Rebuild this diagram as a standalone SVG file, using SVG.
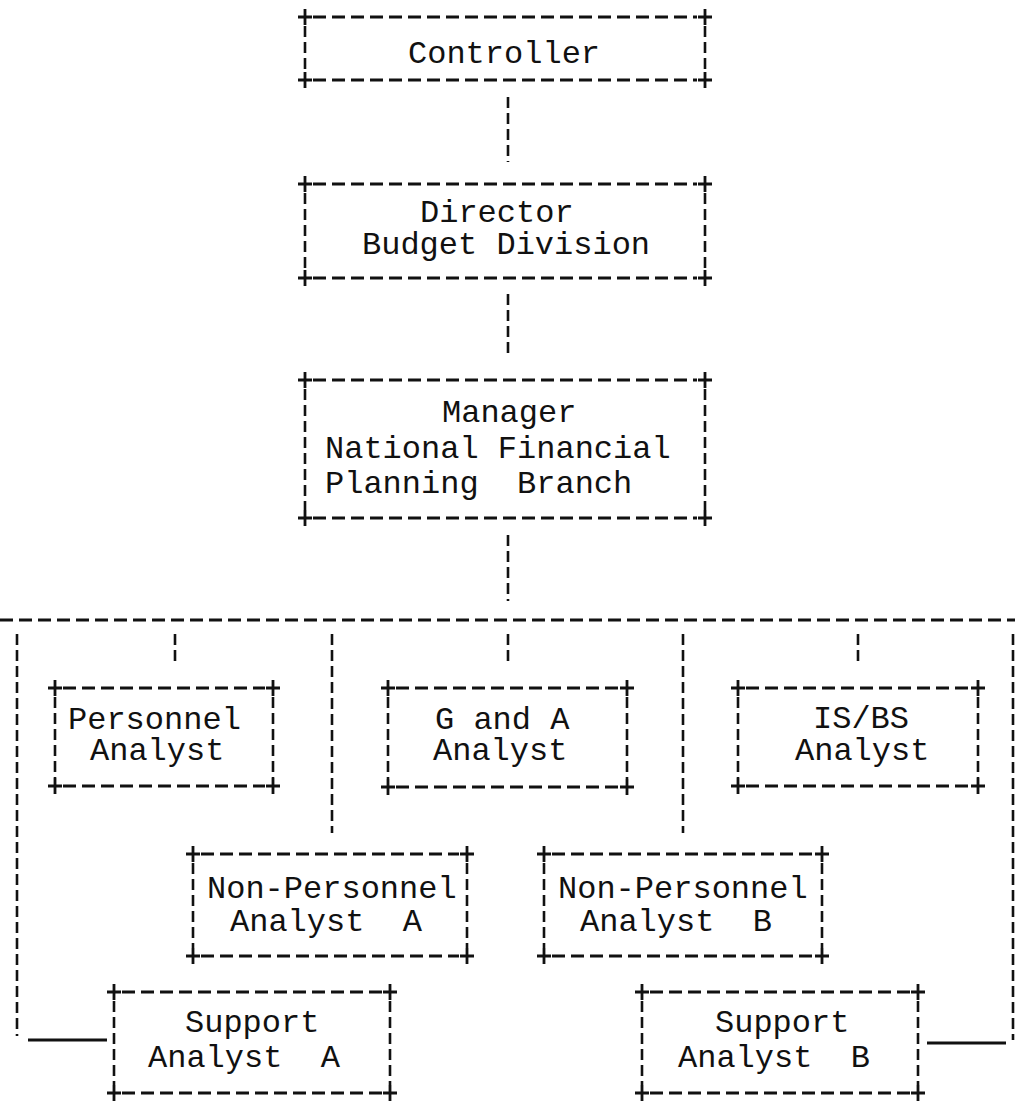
<svg xmlns="http://www.w3.org/2000/svg" xmlns:xlink="http://www.w3.org/1999/xlink" width="1015" height="1102" viewBox="0 0 1015 1102">
<style>
  .bg { fill: #ffffff; }
  .h { stroke: #111; stroke-width: 3; fill: none; stroke-dasharray: 13 6; }
  .v { stroke: #111; stroke-width: 2.6; fill: none; stroke-dasharray: 11 5; }
  .s { stroke: #111; stroke-width: 3; fill: none; }
  .p { stroke: #111; stroke-width: 2.8; fill: none; }
  text { font-family: "Liberation Mono", "DejaVu Sans Mono", monospace; font-size: 32px; fill: #111; white-space: pre; }
</style>
<defs>
  <path id="plus" class="p" d="M-7 0H7M0 -8V8"/>
</defs>
<rect class="bg" x="0" y="0" width="1015" height="1102"/>

<g id="connectors">
  <path class="v" d="M508 97V162"/>
  <path class="v" d="M508 294V357"/>
  <path class="v" d="M508 535V601"/>
  <path class="h" d="M0 620H1015"/>
  <path class="v" d="M175 634V666"/>
  <path class="v" d="M508 634V666"/>
  <path class="v" d="M858 634V666"/>
  <path class="v" d="M332 634V833"/>
  <path class="v" d="M683 634V833"/>
  <path class="v" d="M17 634V1036"/>
  <path class="v" d="M1013 634V1040"/>
  <path class="s" d="M28 1040H107"/>
  <path class="s" d="M927 1043H1006"/>
</g>

<g id="controller">
  <path class="h" d="M313 17H697M313 80H697"/>
  <path class="v" d="M305 26V72M705 26V72"/>
  <use xlink:href="#plus" x="305" y="17"/><use xlink:href="#plus" x="705" y="17"/>
  <use xlink:href="#plus" x="305" y="80"/><use xlink:href="#plus" x="705" y="80"/>
  <text x="408" y="63">Controller</text>
</g>

<g id="director">
  <path class="h" d="M313 184H697M313 278H697"/>
  <path class="v" d="M305 193V270M705 193V270"/>
  <use xlink:href="#plus" x="305" y="184"/><use xlink:href="#plus" x="705" y="184"/>
  <use xlink:href="#plus" x="305" y="278"/><use xlink:href="#plus" x="705" y="278"/>
  <text x="420" y="222">Director</text>
  <text x="362" y="254">Budget Division</text>
</g>

<g id="manager">
  <path class="h" d="M313 380H697M313 518H697"/>
  <path class="v" d="M305 389V510M705 389V510"/>
  <use xlink:href="#plus" x="305" y="380"/><use xlink:href="#plus" x="705" y="380"/>
  <use xlink:href="#plus" x="305" y="518"/><use xlink:href="#plus" x="705" y="518"/>
  <text x="442" y="422">Manager</text>
  <text x="325" y="458">National Financial</text>
  <text x="325" y="493" xml:space="preserve">Planning  Branch</text>
</g>

<g id="personnel-analyst">
  <path class="h" d="M63 688H265M63 786H265"/>
  <path class="v" d="M55 697V778M273 697V778"/>
  <use xlink:href="#plus" x="55" y="688"/><use xlink:href="#plus" x="273" y="688"/>
  <use xlink:href="#plus" x="55" y="786"/><use xlink:href="#plus" x="273" y="786"/>
  <text x="68" y="729">Personnel</text>
  <text x="90" y="760">Analyst</text>
</g>

<g id="g-and-a-analyst">
  <path class="h" d="M396 688H619M396 787H619"/>
  <path class="v" d="M388 697V779M627 697V779"/>
  <use xlink:href="#plus" x="388" y="688"/><use xlink:href="#plus" x="627" y="688"/>
  <use xlink:href="#plus" x="388" y="787"/><use xlink:href="#plus" x="627" y="787"/>
  <text x="435" y="729">G and A</text>
  <text x="433" y="760">Analyst</text>
</g>

<g id="isbs-analyst">
  <path class="h" d="M746 688H970M746 786H970"/>
  <path class="v" d="M738 697V778M978 697V778"/>
  <use xlink:href="#plus" x="738" y="688"/><use xlink:href="#plus" x="978" y="688"/>
  <use xlink:href="#plus" x="738" y="786"/><use xlink:href="#plus" x="978" y="786"/>
  <text x="813" y="728">IS/BS</text>
  <text x="795" y="760">Analyst</text>
</g>

<g id="non-personnel-analyst-a">
  <path class="h" d="M201 854H459M201 956H459"/>
  <path class="v" d="M193 863V948M467 863V948"/>
  <use xlink:href="#plus" x="193" y="854"/><use xlink:href="#plus" x="467" y="854"/>
  <use xlink:href="#plus" x="193" y="956"/><use xlink:href="#plus" x="467" y="956"/>
  <text x="207" y="898">Non-Personnel</text>
  <text x="230" y="931" xml:space="preserve">Analyst  A</text>
</g>

<g id="non-personnel-analyst-b">
  <path class="h" d="M552 854H814M552 956H814"/>
  <path class="v" d="M544 863V948M822 863V948"/>
  <use xlink:href="#plus" x="544" y="854"/><use xlink:href="#plus" x="822" y="854"/>
  <use xlink:href="#plus" x="544" y="956"/><use xlink:href="#plus" x="822" y="956"/>
  <text x="558" y="898">Non-Personnel</text>
  <text x="580" y="931" xml:space="preserve">Analyst  B</text>
</g>

<g id="support-analyst-a">
  <path class="h" d="M122 992H382M122 1093H382"/>
  <path class="v" d="M114 1001V1085M390 1001V1085"/>
  <use xlink:href="#plus" x="114" y="992"/><use xlink:href="#plus" x="390" y="992"/>
  <use xlink:href="#plus" x="114" y="1093"/><use xlink:href="#plus" x="390" y="1093"/>
  <text x="185" y="1032">Support</text>
  <text x="148" y="1067" xml:space="preserve">Analyst  A</text>
</g>

<g id="support-analyst-b">
  <path class="h" d="M650 992H910M650 1093H910"/>
  <path class="v" d="M642 1001V1085M918 1001V1085"/>
  <use xlink:href="#plus" x="642" y="992"/><use xlink:href="#plus" x="918" y="992"/>
  <use xlink:href="#plus" x="642" y="1093"/><use xlink:href="#plus" x="918" y="1093"/>
  <text x="715" y="1032">Support</text>
  <text x="678" y="1067" xml:space="preserve">Analyst  B</text>
</g>
</svg>
